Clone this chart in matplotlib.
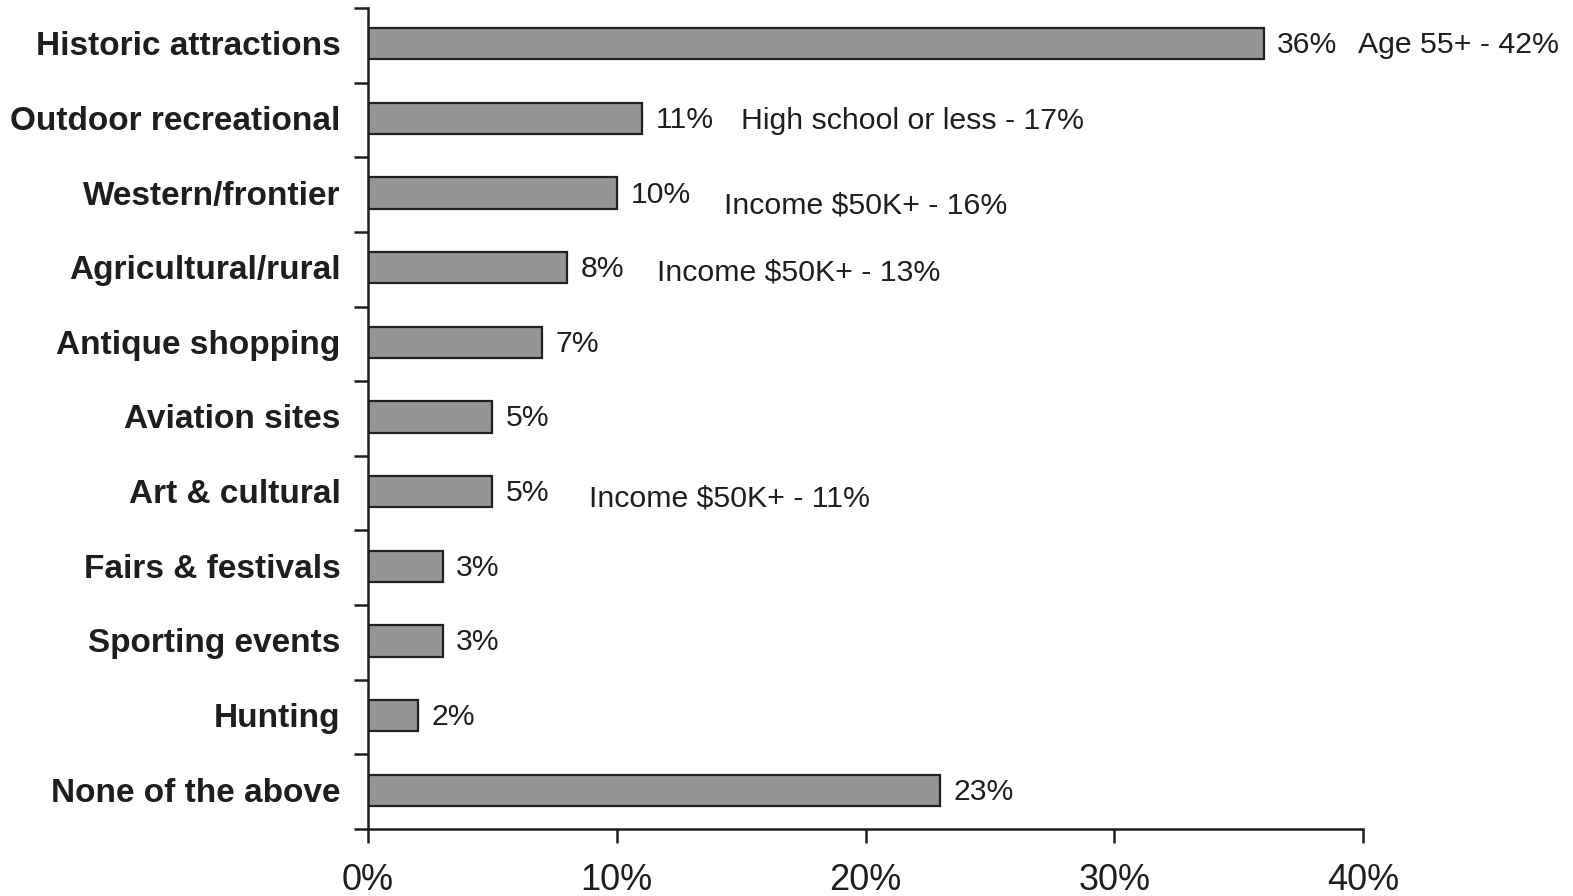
import matplotlib
matplotlib.use("Agg")
import matplotlib.pyplot as plt
from matplotlib.ticker import FixedLocator, NullFormatter

plt.rcParams['font.family'] = ['Liberation Sans', 'DejaVu Sans']

categories = [
    "Historic attractions", "Outdoor recreational", "Western/frontier",
    "Agricultural/rural", "Antique shopping", "Aviation sites",
    "Art & cultural", "Fairs & festivals", "Sporting events",
    "Hunting", "None of the above",
]
values = [36, 11, 10, 8, 7, 5, 5, 3, 3, 2, 23]
x_ticks = [0, 10, 20, 30, 40]
x_tick_labels = ["0%", "10%", "20%", "30%", "40%"]

# Subgroup call-outs: (category, text)
notes = [
    ("Historic attractions", "Age 55+ - 42%"),
    ("Outdoor recreational", "High school or less - 17%"),
    ("Western/frontier", "Income $50K+ - 16%"),
    ("Agricultural/rural", "Income $50K+ - 13%"),
    ("Art & cultural", "Income $50K+ - 11%"),
]
# Placement of the call-outs (x in axis units, vertical nudge in category units)
note_x = [39.8, 15.0, 14.3, 11.6, 8.9]
note_dy = [0.0, 0.02, 0.15, 0.05, 0.07]

W, H = 1573, 896
fig = plt.figure(figsize=(W / 100, H / 100), dpi=100)
ax = fig.add_axes([368 / W, 1 - 829 / H, (1363 - 368) / W, (829 - 8) / H])

n = len(categories)
ypos = list(range(n))
ink = "#1e1e1e"
ax.barh([y - 0.02 for y in ypos], values, height=0.42, color="#959595",
        edgecolor="#202020", linewidth=1.6, zorder=2)

ax.set_xlim(0, 40)
ax.set_ylim(n - 0.5, -0.5)

for spine in ("top", "right"):
    ax.spines[spine].set_visible(False)
for spine in ("left", "bottom"):
    ax.spines[spine].set_linewidth(1.8)
    ax.spines[spine].set_color(ink)

ax.set_xticks(x_ticks)
ax.set_xticklabels(x_tick_labels, fontsize=26, color=ink)
ax.tick_params(axis="x", direction="out", length=10, width=1.8, pad=14.5, colors=ink)

# y ticks sit between categories; labels are drawn at bar centres
ax.yaxis.set_major_locator(FixedLocator([i - 0.5 for i in range(n + 1)]))
ax.yaxis.set_major_formatter(NullFormatter())
ax.tick_params(axis="y", direction="out", length=10, width=1.8, colors=ink)
for i, cat in enumerate(categories):
    ax.text(-1.1, i + 0.02, cat, ha="right", va="center", fontsize=24,
            fontweight="bold", color=ink, clip_on=False)

for i, v in enumerate(values):
    ax.text(v + 0.55, i + 0.0, f"{v}%", ha="left", va="center",
            fontsize=21.7, color=ink)

for (cat, txt), nx, dy in zip(notes, note_x, note_dy):
    i = categories.index(cat)
    ax.text(nx, i + dy, txt, ha="left", va="center", fontsize=21.8,
            color=ink, clip_on=False)

fig.savefig("out.png", dpi=100, facecolor="white")
